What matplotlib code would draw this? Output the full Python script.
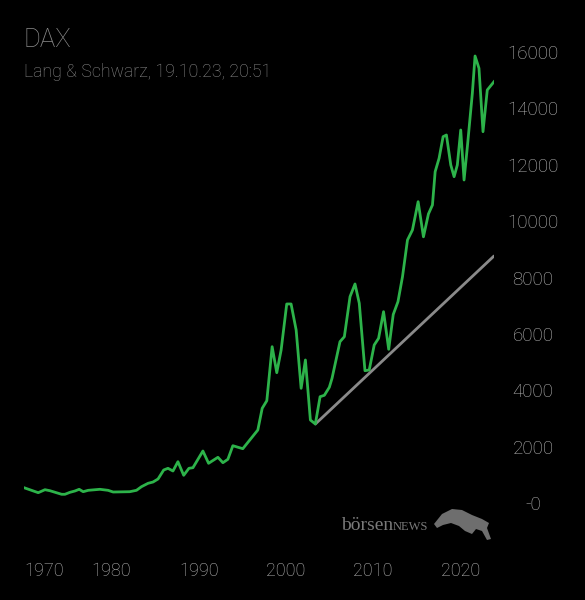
import matplotlib
matplotlib.use("Agg")
import matplotlib.pyplot as plt
import matplotlib.transforms as mtrans
from matplotlib.patches import Polygon

# DAX (decimal year, points)
years = [1970.0, 1971.63, 1972.4, 1972.97, 1974.31, 1974.69, 1975.26, 1975.83,
         1976.32, 1976.78, 1977.35, 1978.69, 1979.63, 1980.21, 1982.11, 1982.88,
         1983.45, 1984.21, 1984.78, 1985.35, 1986.0, 1986.49, 1987.06, 1987.63,
         1988.29, 1988.89, 1989.35, 1990.49, 1991.14, 1992.21, 1992.78, 1993.35,
         1993.92, 1995.06, 1996.78, 1997.28, 1997.81, 1998.42, 1998.95, 1999.45,
         2000.09, 2000.59, 2001.17, 2001.74, 2002.23, 2002.8, 2003.37, 2003.91,
         2004.4, 2004.97, 2005.28, 2006.19, 2006.69, 2007.34, 2007.91, 2008.4,
         2009.05, 2009.54, 2010.11, 2010.61, 2011.18, 2011.77, 2012.29, 2012.83,
         2013.35, 2013.92, 2014.49, 2015.14, 2015.75, 2016.32, 2016.78, 2017.09,
         2017.54, 2018.0, 2018.38, 2018.88, 2019.26, 2019.63, 2020.02, 2020.4,
         2020.78, 2021.35, 2021.66, 2022.11, 2022.57, 2023.06, 2023.83]
dax = [614, 437, 543, 507, 380, 380, 450, 497,
       557, 472, 521, 557, 521, 461, 472, 521,
       649, 770, 816, 923, 1242, 1302, 1206, 1537,
       1054, 1302, 1324, 1916, 1480, 1693, 1501, 1622,
       2104, 1998, 2661, 3431, 3701, 5618, 4695, 5500,
       7133, 7133, 6210, 4141, 5146, 3016, 2874, 3843,
       3893, 4177, 4496, 5795, 5972, 7392, 7843, 7158,
       4766, 4791, 5678, 5915, 6860, 5525, 6760, 7214,
       8102, 9404, 9759, 10763, 9517, 10327, 10646, 11828,
       12303, 13070, 13130, 12065, 11650, 12065, 13307, 11533,
       12715, 14610, 15933, 15497, 13247, 14727, 15021]

trend_years = [2003.37, 2023.83]
trend_vals = [2874, 8836]

xticks = [1970, 1980, 1990, 2000, 2010, 2020]
yticks = [0, 2000, 4000, 6000, 8000, 10000, 12000, 14000, 16000]
ytick_labels = ["-0", "2000", "4000", "6000", "8000", "10000", "12000", "14000", "16000"]

plt.rcParams['font.family'] = ['Roboto', 'DejaVu Sans']
plt.rcParams['font.weight'] = 'light'

fig = plt.figure(figsize=(5.85, 6), dpi=100, facecolor="black")
ax = fig.add_axes([24/585, 0, 470/585, 1])
ax.set_facecolor("black")
ax.set_xlim(1970, 2023.83)
ax.set_ylim(-3371, 17920)
for s in ax.spines.values():
    s.set_visible(False)
ax.set_xticks([])
ax.set_yticks([])

ax.plot(trend_years, trend_vals, color="#8a8a8a", lw=2, solid_capstyle="round", zorder=2)
ax.plot(years, dax, color="#2db34a", lw=2, solid_joinstyle="round", zorder=3)

# y labels on the right, centred at x ~ 533px
ytr = mtrans.blended_transform_factory(fig.transFigure, ax.transData)
for v, lab in zip(yticks, ytick_labels):
    ax.text(533/585, v, lab, transform=ytr, ha="center", va="center",
            color="#b8b8b8", fontsize=13.5)

# x labels
xtr = mtrans.blended_transform_factory(ax.transData, fig.transFigure)
for i, yr in enumerate(xticks):
    ax.text(yr, 1 - 571/600, str(yr), transform=xtr, ha="left" if i == 0 else "center",
            va="center", color="#b8b8b8", fontsize=13)

fig.text(24/585, 1 - 40/600, "DAX", color="#8c8c8c", fontsize=18.5, ha="left", va="center")
fig.text(24/585, 1 - 72/600, "Lang & Schwarz, 19.10.23, 20:51", color="#8c8c8c",
         fontsize=12.8, ha="left", va="center")

# börsenNEWS logo
fig.text(341/585, 1 - 526/600, "börsen", color="#7a7a7a", fontsize=14, fontweight="normal",
         family=["Liberation Serif", "DejaVu Serif"], ha="left", va="center")
fig.text(393/585, 1 - 527/600, "NEWS", color="#7a7a7a", fontsize=9, fontweight="normal",
         family=["Liberation Serif", "DejaVu Serif"], ha="left", va="center")
bull = [(434, 524), (442, 514), (452, 509), (462, 510), (472, 515), (482, 519),
        (489, 523), (487, 528), (491, 539), (487, 540), (482, 531), (476, 529),
        (472, 534), (465, 531), (459, 526), (451, 523), (443, 525), (437, 528)]
fig.patches.append(Polygon([(x/585, 1 - y/600) for x, y in bull], closed=True,
                           facecolor="#6e6e6e", edgecolor="none", transform=fig.transFigure))

fig.savefig("out.png", dpi=100, facecolor="black")
